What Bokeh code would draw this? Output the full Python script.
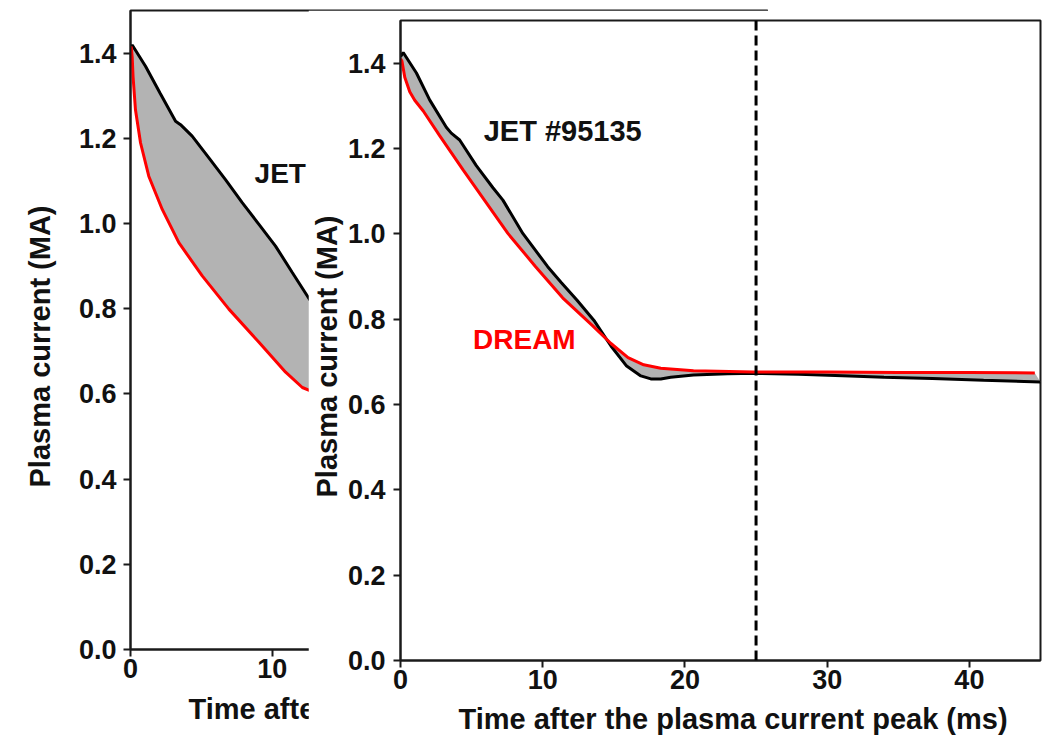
from bokeh.plotting import figure
from bokeh.models import Span, Label, Title
from bokeh.layouts import row
from bokeh.embed import file_html
from bokeh.resources import INLINE

# ---------------- data ----------------
# left (background) panel
left_t_jet = [0.0, 0.12, 1.06, 2.1, 3.18, 3.53, 4.35, 5.53, 6.7, 7.88, 9.06, 10.23, 11.41, 12.7]
left_i_jet = [1.412, 1.419, 1.369, 1.305, 1.240, 1.232, 1.205, 1.154, 1.103, 1.049, 0.998, 0.947, 0.885, 0.818]
left_t_dream = [0.0, 0.05, 0.12, 0.18, 0.35, 0.71, 1.29, 2.24, 3.41, 5.06, 6.94, 9.06, 10.94, 12.12, 12.7]
left_i_dream = [1.412, 1.415, 1.39, 1.345, 1.267, 1.189, 1.111, 1.033, 0.955, 0.877, 0.799, 0.721, 0.651, 0.615, 0.607]

# right (front) panel, JET #95135
right_t_jet = [0.0, 0.19, 1.12, 2.05, 3.22, 3.57, 4.16, 5.33, 6.5, 7.2, 8.6, 10.35, 11.3, 12.4,
               13.65, 14.8, 15.9, 16.9, 17.6, 18.3, 19.0, 20.6, 23.0, 25.0, 28.0, 31.6, 34.0,
               37.4, 41.0, 45.0]
right_i_jet = [1.415, 1.425, 1.377, 1.314, 1.250, 1.236, 1.220, 1.160, 1.108, 1.079, 1.001, 0.923,
               0.886, 0.845, 0.795, 0.737, 0.690, 0.667, 0.660, 0.660, 0.664, 0.669, 0.672, 0.673,
               0.671, 0.667, 0.664, 0.661, 0.657, 0.653]
right_t_dream = [0.0, 0.1, 0.3, 0.65, 1.0, 1.6, 2.75, 4.4, 5.9, 7.55, 9.5, 11.4, 13.5, 14.8, 16.0,
                 17.1, 18.3, 20.6, 24.8, 30.0, 35.0, 40.0, 44.6]
right_i_dream = [1.41, 1.405, 1.367, 1.333, 1.313, 1.288, 1.230, 1.150, 1.079, 1.001, 0.923, 0.850,
                 0.785, 0.743, 0.710, 0.693, 0.685, 0.679, 0.676, 0.676, 0.675, 0.675, 0.674]

dashed_t = 25.0

x_ticks = [0, 10, 20, 30, 40]
x_tick_labels = ["0", "10", "20", "30", "40"]
y_ticks = [0.0, 0.2, 0.4, 0.6, 0.8, 1.0, 1.2, 1.4]
y_tick_labels = ["0.0", "0.2", "0.4", "0.6", "0.8", "1.0", "1.2", "1.4"]

x_label = "Time after the plasma current peak (ms)"
y_label = "Plasma current (MA)"

FONT = "Liberation Sans"
FILL = "#b3b3b3"
RED = "#ff0000"
INK = "#111111"


def style(p, y_std_lab, x_std_lab):
    p.xgrid.visible = False
    p.ygrid.visible = False
    p.outline_line_color = "#1a1a1a"
    p.outline_line_width = 2
    p.xaxis.ticker = x_ticks
    p.xaxis.major_label_overrides = dict(zip(x_ticks, x_tick_labels))
    p.yaxis.ticker = y_ticks
    p.yaxis.major_label_overrides = dict(zip(y_ticks, y_tick_labels))
    for ax in (p.xaxis[0], p.yaxis[0]):
        ax.axis_line_color = "#1a1a1a"
        ax.axis_line_width = 2
        ax.major_tick_line_color = "#1a1a1a"
        ax.major_tick_line_width = 2
        ax.major_tick_out = 7
        ax.major_tick_in = 0
        ax.minor_tick_line_color = None
        ax.major_label_text_font = FONT
        ax.major_label_text_font_size = "27px"
        ax.major_label_text_font_style = "bold"
        ax.major_label_text_color = INK
    p.yaxis.major_label_standoff = y_std_lab
    p.xaxis.major_label_standoff = x_std_lab


def axis_titles(p, x_off, x_std, y_off, y_std):
    p.add_layout(Title(text=x_label, text_font=FONT, text_font_size="29px",
                       text_font_style="bold", text_color=INK, align="left",
                       offset=x_off, standoff=x_std, vertical_align="top"), "below")
    p.add_layout(Title(text=y_label, text_font=FONT, text_font_size="29px",
                       text_font_style="bold", text_color=INK, align="left",
                       offset=y_off, standoff=y_std, vertical_align="top"), "left")


# ---------------- left (background) panel ----------------
left = figure(frame_width=638, frame_height=639, x_range=(0, 45), y_range=(0, 1.5),
              min_border_left=130, min_border_top=8, min_border_right=0, min_border_bottom=85,
              output_backend="svg", toolbar_location=None, align="start")
style(left, 7, 2)
left.patch(left_t_jet + left_t_dream[::-1], left_i_jet + left_i_dream[::-1],
           fill_color=FILL, line_color=None)
left.line(left_t_jet, left_i_jet, line_color="black", line_width=3)
left.line(left_t_dream, left_i_dream, line_color=RED, line_width=3)
left.add_layout(Label(x=8.75, y=1.117, text="JET", text_font=FONT, text_font_size="28px",
                      text_font_style="bold", text_baseline="middle", text_color=INK))
axis_titles(left, 58, 24, 162, 36)

# ---------------- right (front) panel ----------------
right = figure(frame_width=640, frame_height=640, x_range=(0, 45), y_range=(0, 1.5),
               min_border_left=92, min_border_top=10, min_border_right=3, min_border_bottom=70,
               output_backend="svg", toolbar_location=None, align="start",
               background_fill_color="white", border_fill_color="white",
               margin=(10, 0, 0, -460))
style(right, 8, 2)
right.patch(right_t_jet + right_t_dream[::-1], right_i_jet + right_i_dream[::-1],
            fill_color=FILL, line_color=None)
right.line(right_t_jet, right_i_jet, line_color="black", line_width=3)
right.line(right_t_dream, right_i_dream, line_color=RED, line_width=3)
right.add_layout(Span(location=dashed_t, dimension="height", line_color="black",
                      line_width=3, line_dash="10 5"))
right.add_layout(Label(x=5.85, y=1.24, text="JET #95135", text_font=FONT, text_font_size="29px",
                       text_font_style="bold", text_baseline="middle", text_color=INK))
right.add_layout(Label(x=5.1, y=0.752, text="DREAM", text_font=FONT, text_font_size="28px",
                       text_font_style="bold", text_baseline="middle", text_color=RED))
axis_titles(right, 58, 22, 163, 0)

p = row(left, right)
open("out.html", "w").write(file_html(p, INLINE))
